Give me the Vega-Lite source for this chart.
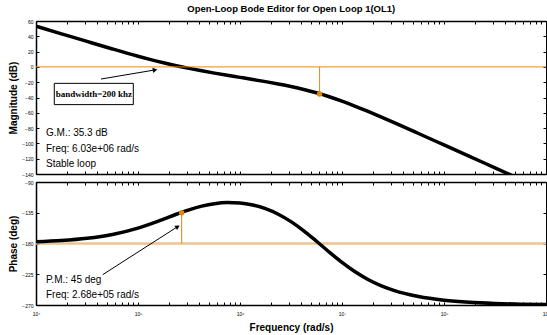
{
  "$schema": "https://vega.github.io/schema/vega-lite/v6.json",
  "background": "white",
  "padding": {"left": 8, "right": 2, "top": 4, "bottom": 0},
  "title": {"text": "Open-Loop Bode Editor for Open Loop 1(OL1)", "font": "Liberation Sans", "fontSize": 9.5, "fontWeight": "bold", "anchor": "middle", "offset": 5, "dx": 12, "color": "black"},
  "config": {
    "view": {"stroke": "black", "strokeWidth": 1},
    "axis": {"domainColor": "black", "domainWidth": 1.5, "tickColor": "black", "labelColor": "black", "titleColor": "black", "grid": false, "labelFont": "Liberation Sans", "labelFontSize": 5, "titleFont": "Liberation Sans", "titleFontSize": 10, "titleFontWeight": "bold", "tickSize": -3, "labelPadding": 6, "labelOverlap": false, "labelFlush": false, "labelBound": false},
    "text": {"font": "Liberation Sans"}
  },
  "datasets": {
    "bode": [
      {"f": 10000, "mag": 53.2, "phase": -177.6},
      {"f": 17783, "mag": 43.22, "phase": -175.7},
      {"f": 31623, "mag": 33.28, "phase": -172.4},
      {"f": 56234, "mag": 23.46, "phase": -166.7},
      {"f": 100000, "mag": 14.0, "phase": -157.4},
      {"f": 133352, "mag": 9.55, "phase": -151.2},
      {"f": 177828, "mag": 5.36, "phase": -144.3},
      {"f": 237137, "mag": 1.53, "phase": -137.2},
      {"f": 316228, "mag": -1.96, "phase": -130.7},
      {"f": 421697, "mag": -5.15, "phase": -125.3},
      {"f": 562341, "mag": -8.11, "phase": -121.7},
      {"f": 749894, "mag": -10.93, "phase": -120.15},
      {"f": 1000000, "mag": -13.67, "phase": -120.7},
      {"f": 1333521, "mag": -16.43, "phase": -123.65},
      {"f": 1778279, "mag": -19.28, "phase": -129.05},
      {"f": 2371374, "mag": -22.31, "phase": -137.15},
      {"f": 3162278, "mag": -25.65, "phase": -148.0},
      {"f": 4216965, "mag": -29.45, "phase": -161.4},
      {"f": 5623413, "mag": -33.86, "phase": -176.7},
      {"f": 7498942, "mag": -38.98, "phase": -192.5},
      {"f": 10000000, "mag": -44.79, "phase": -207.7},
      {"f": 13335214, "mag": -51.17, "phase": -221.1},
      {"f": 17782794, "mag": -57.96, "phase": -232.3},
      {"f": 23713737, "mag": -65.04, "phase": -241.2},
      {"f": 31622777, "mag": -72.29, "phase": -248.2},
      {"f": 56234133, "mag": -87.07, "phase": -257.6},
      {"f": 100000000, "mag": -102.0, "phase": -263.0},
      {"f": 177827941, "mag": -116.97, "phase": -266.1},
      {"f": 316227766, "mag": -131.97, "phase": -267.8},
      {"f": 562341325, "mag": -146.96, "phase": -268.8},
      {"f": 1000000000, "mag": -162.0, "phase": -269.3}
    ],
    "gm": [{"f": 6030000, "y0": 0, "y1": -35.3}],
    "pm": [{"f": 268000, "y0": -180, "y1": -135}],
    "magText": [
      {"f": 12530, "y": -87, "t": "G.M.: 35.3 dB"},
      {"f": 12530, "y": -107, "t": "Freq: 6.03e+06 rad/s"},
      {"f": 12530, "y": -127, "t": "Stable loop"}
    ],
    "phText": [
      {"f": 12530, "y": -233, "t": "P.M.: 45 deg"},
      {"f": 12530, "y": -255, "t": "Freq: 2.68e+05 rad/s"}
    ],
    "bwBox": [{"f1": 15110, "f2": 89950, "y1": -21.5, "y2": -49.3, "fc": 36900, "yc": -35.4, "t": "bandwidth=200 khz"}],
    "bwArrow": [{"f1": 43350, "y1": -15.85, "f2": 146900, "y2": -3.96}],
    "phArrow": [{"f1": 45080, "y1": -225.6, "f2": 244900, "y2": -155.3}]
  },
  "spacing": 1,
  "vconcat": [
    {
      "width": 510,
      "height": 153,
      "resolve": {"axis": {"x": "independent", "y": "independent"}},
      "layer": [
        {
          "data": {"name": "bode"},
          "mark": {"type": "line", "color": "black", "strokeWidth": 3.5, "interpolate": "monotone", "clip": true},
          "encoding": {
            "x": {"field": "f", "type": "quantitative", "scale": {"type": "log", "domain": [10000, 1000000000], "nice": false},
              "axis": {"orient": "bottom", "labels": false, "title": null, "values": [10000,20000,30000,40000,50000,60000,70000,80000,90000,100000,200000,300000,400000,500000,600000,700000,800000,900000,1000000,2000000,3000000,4000000,5000000,6000000,7000000,8000000,9000000,10000000,20000000,30000000,40000000,50000000,60000000,70000000,80000000,90000000,100000000,200000000,300000000,400000000,500000000,600000000,700000000,800000000,900000000,1000000000]}},
            "y": {"field": "mag", "type": "quantitative", "scale": {"domain": [-140, 60], "nice": false},
              "axis": {"orient": "left", "title": "Magnitude (dB)", "values": [-140,-120,-100,-80,-60,-40,-20,0,20,40,60], "titlePadding": 3}}
          }
        },
        {
          "data": {"values": [{"y": 0}]},
          "mark": {"type": "rule", "color": "#dc8d10", "strokeWidth": 1},
          "encoding": {"y": {"field": "y", "type": "quantitative", "scale": {"domain": [-140, 60], "nice": false}, "axis": null}}
        },
        {
          "data": {"name": "gm"},
          "mark": {"type": "rule", "color": "#dc8d10", "strokeWidth": 1},
          "encoding": {
            "x": {"field": "f", "type": "quantitative", "scale": {"type": "log", "domain": [10000, 1000000000], "nice": false}, "axis": null},
            "y": {"field": "y0", "type": "quantitative", "scale": {"domain": [-140, 60], "nice": false}, "axis": null},
            "y2": {"field": "y1"}
          }
        },
        {
          "data": {"name": "gm"},
          "mark": {"type": "point", "filled": true, "color": "#d98a00", "size": 30, "opacity": 1},
          "encoding": {
            "x": {"field": "f", "type": "quantitative", "scale": {"type": "log", "domain": [10000, 1000000000], "nice": false},
              "axis": {"orient": "top", "labels": false, "title": null, "values": [10000,20000,30000,40000,50000,60000,70000,80000,90000,100000,200000,300000,400000,500000,600000,700000,800000,900000,1000000,2000000,3000000,4000000,5000000,6000000,7000000,8000000,9000000,10000000,20000000,30000000,40000000,50000000,60000000,70000000,80000000,90000000,100000000,200000000,300000000,400000000,500000000,600000000,700000000,800000000,900000000,1000000000]}},
            "y": {"field": "y1", "type": "quantitative", "scale": {"domain": [-140, 60], "nice": false},
              "axis": {"orient": "right", "labels": false, "title": null, "domain": false, "values": [-140,-120,-100,-80,-60,-40,-20,0,20,40,60]}}
          }
        },
        {
          "data": {"name": "bwBox"},
          "mark": {"type": "rect", "fill": "white", "stroke": "black", "strokeWidth": 1},
          "encoding": {
            "x": {"field": "f1", "type": "quantitative", "scale": {"type": "log", "domain": [10000, 1000000000], "nice": false}, "axis": null},
            "x2": {"field": "f2"},
            "y": {"field": "y1", "type": "quantitative", "scale": {"domain": [-140, 60], "nice": false}, "axis": null},
            "y2": {"field": "y2"}
          }
        },
        {
          "data": {"name": "bwBox"},
          "mark": {"type": "text", "font": "Liberation Serif", "fontWeight": "bold", "fontSize": 9, "color": "black", "align": "center", "baseline": "middle"},
          "encoding": {
            "x": {"field": "fc", "type": "quantitative", "scale": {"type": "log", "domain": [10000, 1000000000], "nice": false}, "axis": null},
            "y": {"field": "yc", "type": "quantitative", "scale": {"domain": [-140, 60], "nice": false}, "axis": null},
            "text": {"field": "t"}
          }
        },
        {
          "data": {"name": "bwArrow"},
          "mark": {"type": "rule", "color": "black", "strokeWidth": 1},
          "encoding": {
            "x": {"field": "f1", "type": "quantitative", "scale": {"type": "log", "domain": [10000, 1000000000], "nice": false}, "axis": null},
            "x2": {"field": "f2"},
            "y": {"field": "y1", "type": "quantitative", "scale": {"domain": [-140, 60], "nice": false}, "axis": null},
            "y2": {"field": "y2"}
          }
        },
        {
          "data": {"name": "bwArrow"},
          "mark": {"type": "point", "shape": "triangle-up", "filled": true, "color": "black", "size": 28, "angle": 80.5, "opacity": 1},
          "encoding": {
            "x": {"field": "f2", "type": "quantitative", "scale": {"type": "log", "domain": [10000, 1000000000], "nice": false}, "axis": null},
            "y": {"field": "y2", "type": "quantitative", "scale": {"domain": [-140, 60], "nice": false}, "axis": null}
          }
        },
        {
          "data": {"name": "magText"},
          "mark": {"type": "text", "fontSize": 10, "color": "black", "align": "left", "baseline": "middle"},
          "encoding": {
            "x": {"field": "f", "type": "quantitative", "scale": {"type": "log", "domain": [10000, 1000000000], "nice": false}, "axis": null},
            "y": {"field": "y", "type": "quantitative", "scale": {"domain": [-140, 60], "nice": false}, "axis": null},
            "text": {"field": "t"}
          }
        }
      ]
    },
    {
      "width": 510,
      "height": 123,
      "resolve": {"axis": {"x": "independent", "y": "independent"}},
      "layer": [
        {
          "data": {"values": [{"y": -180}]},
          "mark": {"type": "rule", "color": "#eac590", "strokeWidth": 2.5},
          "encoding": {"y": {"field": "y", "type": "quantitative", "scale": {"domain": [-270, -90], "nice": false}, "axis": null}}
        },
        {
          "data": {"name": "bode"},
          "mark": {"type": "line", "color": "black", "strokeWidth": 3.5, "interpolate": "monotone", "clip": true},
          "encoding": {
            "x": {"field": "f", "type": "quantitative", "scale": {"type": "log", "domain": [10000, 1000000000], "nice": false},
              "axis": {"orient": "bottom", "title": "Frequency (rad/s)", "titlePadding": 6, "labelPadding": 9,
                "labelExpr": "indexof([10000,100000,1000000,10000000,100000000,1000000000], datum.value) >= 0 ? '10' + ['⁴','⁵','⁶','⁷','⁸','⁹'][indexof([10000,100000,1000000,10000000,100000000,1000000000], datum.value)] : ''",
                "values": [10000,20000,30000,40000,50000,60000,70000,80000,90000,100000,200000,300000,400000,500000,600000,700000,800000,900000,1000000,2000000,3000000,4000000,5000000,6000000,7000000,8000000,9000000,10000000,20000000,30000000,40000000,50000000,60000000,70000000,80000000,90000000,100000000,200000000,300000000,400000000,500000000,600000000,700000000,800000000,900000000,1000000000]}},
            "y": {"field": "phase", "type": "quantitative", "scale": {"domain": [-270, -90], "nice": false},
              "axis": {"orient": "left", "title": "Phase (deg)", "values": [-270,-225,-180,-135,-90], "titlePadding": 3}}
          }
        },
        {
          "data": {"name": "pm"},
          "mark": {"type": "rule", "color": "#c8861a", "strokeWidth": 1},
          "encoding": {
            "x": {"field": "f", "type": "quantitative", "scale": {"type": "log", "domain": [10000, 1000000000], "nice": false}, "axis": null},
            "y": {"field": "y0", "type": "quantitative", "scale": {"domain": [-270, -90], "nice": false}, "axis": null},
            "y2": {"field": "y1"}
          }
        },
        {
          "data": {"name": "pm"},
          "mark": {"type": "point", "filled": true, "color": "#d98a00", "size": 30, "opacity": 1},
          "encoding": {
            "x": {"field": "f", "type": "quantitative", "scale": {"type": "log", "domain": [10000, 1000000000], "nice": false},
              "axis": {"orient": "top", "labels": false, "title": null, "values": [10000,20000,30000,40000,50000,60000,70000,80000,90000,100000,200000,300000,400000,500000,600000,700000,800000,900000,1000000,2000000,3000000,4000000,5000000,6000000,7000000,8000000,9000000,10000000,20000000,30000000,40000000,50000000,60000000,70000000,80000000,90000000,100000000,200000000,300000000,400000000,500000000,600000000,700000000,800000000,900000000,1000000000]}},
            "y": {"field": "y1", "type": "quantitative", "scale": {"domain": [-270, -90], "nice": false},
              "axis": {"orient": "right", "labels": false, "title": null, "domain": false, "values": [-270,-225,-180,-135,-90]}}
          }
        },
        {
          "data": {"name": "phArrow"},
          "mark": {"type": "rule", "color": "black", "strokeWidth": 1},
          "encoding": {
            "x": {"field": "f1", "type": "quantitative", "scale": {"type": "log", "domain": [10000, 1000000000], "nice": false}, "axis": null},
            "x2": {"field": "f2"},
            "y": {"field": "y1", "type": "quantitative", "scale": {"domain": [-270, -90], "nice": false}, "axis": null},
            "y2": {"field": "y2"}
          }
        },
        {
          "data": {"name": "phArrow"},
          "mark": {"type": "point", "shape": "triangle-up", "filled": true, "color": "black", "size": 28, "angle": 57.2, "opacity": 1},
          "encoding": {
            "x": {"field": "f2", "type": "quantitative", "scale": {"type": "log", "domain": [10000, 1000000000], "nice": false}, "axis": null},
            "y": {"field": "y2", "type": "quantitative", "scale": {"domain": [-270, -90], "nice": false}, "axis": null}
          }
        },
        {
          "data": {"name": "phText"},
          "mark": {"type": "text", "fontSize": 10, "color": "black", "align": "left", "baseline": "middle"},
          "encoding": {
            "x": {"field": "f", "type": "quantitative", "scale": {"type": "log", "domain": [10000, 1000000000], "nice": false}, "axis": null},
            "y": {"field": "y", "type": "quantitative", "scale": {"domain": [-270, -90], "nice": false}, "axis": null},
            "text": {"field": "t"}
          }
        }
      ]
    }
  ]
}
